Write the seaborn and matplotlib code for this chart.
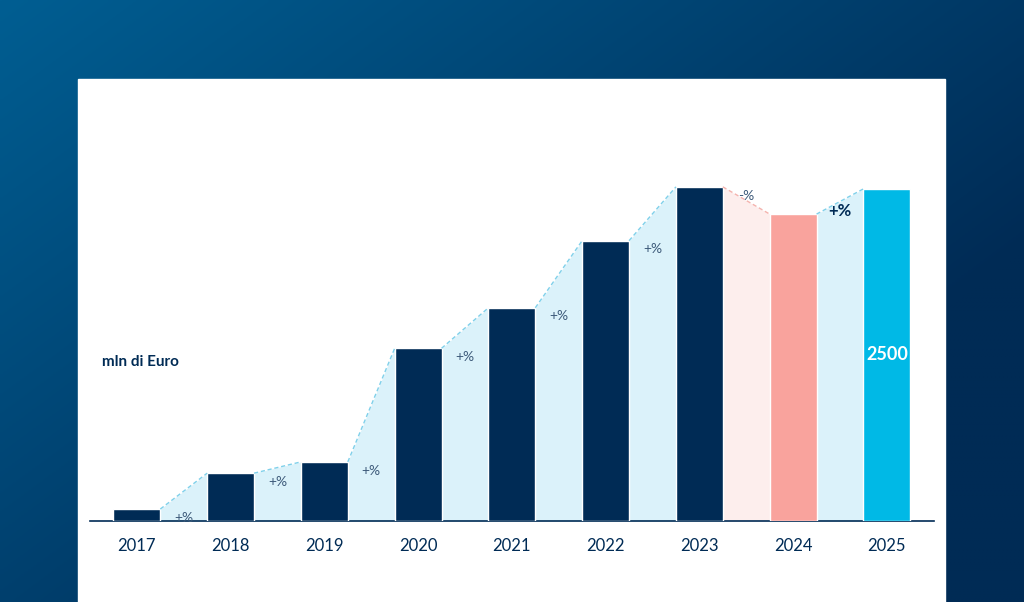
import numpy as np
import matplotlib
matplotlib.use("Agg")
import matplotlib.pyplot as plt
import seaborn as sns
from matplotlib.patches import Rectangle

years = ["2017", "2018", "2019", "2020", "2021", "2022", "2023", "2024", "2025"]
values = [90, 360, 445, 1300, 1605, 2110, 2515, 2310, 2500]
gap_labels = ["+%", "+%", "+%", "+%", "+%", "+%", "-%", "+%"]
bar_colors = ["#002b55"] * 7 + ["#f9a39d", "#00b9e6"]

sns.set_theme(style="white")
plt.rcParams["font.family"] = ["Lato", "DejaVu Sans"]

fig = plt.figure(figsize=(10.24, 6.02), dpi=100)

# gradient background
bg = fig.add_axes([0, 0, 1, 1])
gx, gy = np.meshgrid(np.linspace(0, 1, 256), np.linspace(0, 1, 256))
t = np.clip(0.75 * gx + 0.6 * gy, 0, 1)
c0 = np.array([0x00, 0x5e, 0x92]) / 255
c1 = np.array([0x00, 0x2b, 0x55]) / 255
img = c0[None, None, :] * (1 - t[..., None]) + c1[None, None, :] * t[..., None]
bg.imshow(img, aspect="auto", extent=[0, 1, 0, 1], origin="upper")
bg.set_axis_off()
bg.add_patch(Rectangle((78 / 1024, 0), (945 - 78) / 1024, (602 - 79) / 602,
                       transform=bg.transAxes, color="white", zorder=2))

W, H = 1024, 602
ax = fig.add_axes([90 / W, (H - 521) / H, (933.75 - 90) / W, 372 / H])
ax.patch.set_alpha(0)

df_x = list(range(len(years)))
sns.barplot(x=years, y=values, hue=years, palette=bar_colors, legend=False,
            width=0.5, saturation=1, ax=ax, zorder=3)

for i in range(len(years) - 1):
    neg = values[i + 1] < values[i]
    fill = "#fdeeed" if neg else "#dbf2fa"
    line = "#f4b3ae" if neg else "#7fd0ea"
    xs = [i + 0.25, i + 0.75]
    ys = [values[i], values[i + 1]]
    ax.fill_between(xs, 0, ys, color=fill, zorder=2, lw=0)
    ax.plot(xs, ys, ls=(0, (3, 2)), color=line, lw=1, zorder=4)
    bold = i == len(years) - 2
    ax.text(i + 0.5, values[i] - 20 if not bold else values[i + 1] - 110, gap_labels[i],
            ha="center", va="top", fontsize=12 if bold else 10,
            fontweight="bold" if bold else "normal",
            color="#002b55" if bold else "#3d5a7a", zorder=5)

ax.text(8, values[8] / 2, "2500", ha="center", va="center", color="white",
        fontsize=13, fontweight="bold", zorder=5)
ax.text(-0.37, 1200, "mln di Euro", ha="left", va="center", color="#002b55",
        fontsize=11, fontweight="bold")

ax.set_xlim(-0.5, 8.5)
ax.set_ylim(0, 2800)
ax.set_yticks([])
ax.set_xlabel("")
ax.set_ylabel("")
for s in ["top", "right", "left"]:
    ax.spines[s].set_visible(False)
ax.spines["bottom"].set_color("#002b55")
ax.spines["bottom"].set_linewidth(1.2)
ax.tick_params(axis="x", length=0, pad=12, labelsize=12, labelcolor="#002b55")

fig.savefig("out.png", dpi=100)
